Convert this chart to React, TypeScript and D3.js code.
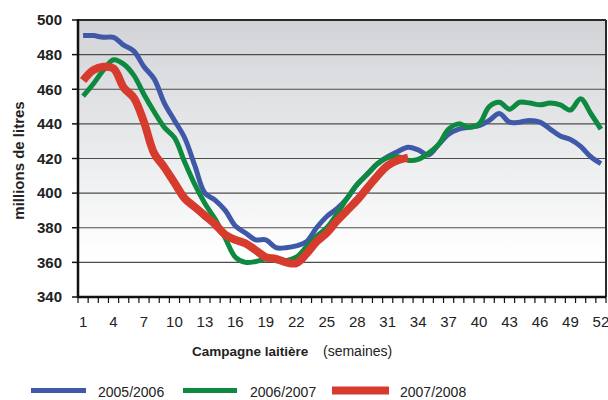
import { useEffect } from 'react';
import * as d3 from 'd3';

// weekly milk collection, millions of litres
const weeks = d3.range(1, 53);
const xTickLabels = [1, 4, 7, 10, 13, 16, 19, 22, 25, 28, 31, 34, 37, 40, 43, 46, 49, 52];
const yTicks = [340, 360, 380, 400, 420, 440, 460, 480, 500];

const season0506 = [
  491, 491, 490, 490, 485.5, 482, 473, 466, 452, 442,
  432, 416, 400, 396, 390, 381, 377, 373, 373, 368.5,
  368.5, 369.5, 372, 380, 386.5, 391, 397, 405, 411, 417,
  421, 424, 426.5, 425, 422, 428, 434, 437, 438, 439,
  442, 446, 441, 441, 442, 441, 437, 433, 431, 427,
  421, 417
];
const season0607 = [
  456, 463, 471, 477, 474.5, 468, 457, 447, 438, 432,
  418, 405, 394, 385, 374, 363, 360, 360.5, 362, 361,
  361, 363, 369, 375, 380, 388, 397, 405, 411, 417,
  420.5, 421, 419, 419.5, 423, 428, 437, 440, 438, 440,
  450, 452.5, 448.5, 452.5, 452, 451, 452, 451, 448, 454.5,
  446, 437
];
const season0708 = [
  465, 471, 473, 472, 461, 455, 441, 423, 415, 406,
  397, 392, 387, 382, 376, 373, 371, 367, 363, 362,
  360, 359.5, 365, 372, 377, 384, 390, 396, 403, 410,
  416, 419, 420.5
];

const series = [
  { label: '2005/2006', values: season0506, color: '#3f58a8', width: 5 },
  { label: '2006/2007', values: season0607, color: '#0d8a40', width: 5 },
  { label: '2007/2008', values: season0708, color: '#d63b2d', width: 8 }
];

const FONT = '"Liberation Sans", Arial, sans-serif';

export default function App() {
  useEffect(() => {
    document.body.style.margin = '0';
  }, []);

  const width = 608;
  const height = 400;
  const plot = { left: 78, right: 606, top: 20, bottom: 297 };

  const x = d3.scaleLinear().domain([0.5, 52.5]).range([plot.left, plot.right]);
  const y = d3.scaleLinear().domain([340, 500]).range([plot.bottom, plot.top]);

  const line = d3.line<number>()
    .x((_, i) => x(weeks[i]))
    .y(d => y(d))
    .curve(d3.curveCatmullRom.alpha(0.5));

  const boundaries = d3.range(0, 53).map(k => k + 0.5);

  const legend = [
    { x1: 31, x2: 86, tx: 98 },
    { x1: 183, x2: 237, tx: 250 },
    { x1: 332, x2: 389, tx: 400 }
  ];

  return (
    <svg width={width} height={height} style={{ display: 'block', fontFamily: FONT }}>
      <defs>
        <linearGradient id="bg" x1="0" y1="0" x2="0" y2="1">
          <stop offset="0%" stopColor="#d2d3d7" />
          <stop offset="55%" stopColor="#eeeff0" />
          <stop offset="85%" stopColor="#ffffff" />
        </linearGradient>
        <clipPath id="plotClip">
          <rect x={plot.left} y={plot.top} width={plot.right - plot.left} height={plot.bottom - plot.top} />
        </clipPath>
      </defs>

      <rect x={plot.left} y={plot.top} width={plot.right - plot.left} height={plot.bottom - plot.top} fill="url(#bg)" />

      {/* grid */}
      {yTicks.slice(1, -1).map(t => (
        <line key={t} x1={plot.left} x2={plot.right} y1={y(t)} y2={y(t)} stroke="#4d4d4d" strokeWidth={1.2} />
      ))}

      {/* series */}
      <g clipPath="url(#plotClip)">
        {series.map(s => (
          <path key={s.label} d={line(s.values) ?? ''} fill="none" stroke={s.color}
            strokeWidth={s.width} strokeLinejoin="round" strokeLinecap="butt" />
        ))}
      </g>

      {/* frame */}
      <line x1={plot.left} x2={plot.right} y1={plot.top} y2={plot.top} stroke="#2a2a2a" strokeWidth={2} />
      <line x1={plot.right} x2={plot.right} y1={plot.top} y2={plot.bottom} stroke="#2a2a2a" strokeWidth={2} />
      <line x1={plot.left} x2={plot.left} y1={plot.top - 1} y2={plot.bottom + 1} stroke="#111" strokeWidth={2.5} />
      <line x1={plot.left} x2={plot.right} y1={plot.bottom} y2={plot.bottom} stroke="#111" strokeWidth={2.5} />

      {/* y axis */}
      {yTicks.map(t => (
        <g key={t}>
          <line x1={plot.left - 6} x2={plot.left} y1={y(t)} y2={y(t)} stroke="#111" strokeWidth={1.5} />
          <text x={62} y={y(t)} dy="0.35em" textAnchor="end" fontSize={15} fontWeight="bold" fill="#222">{t}</text>
        </g>
      ))}
      <text transform={`translate(24,${(plot.top + plot.bottom) / 2 + 2}) rotate(-90)`} textAnchor="middle"
        fontSize={15} fontWeight="bold" fill="#222">millions de litres</text>

      {/* x axis */}
      {boundaries.map(b => (
        <line key={b} x1={x(b)} x2={x(b)} y1={plot.bottom} y2={plot.bottom + 6} stroke="#111" strokeWidth={1.2} />
      ))}
      {xTickLabels.map(w => (
        <text key={w} x={x(w)} y={327} textAnchor="middle" fontSize={15} fill="#222">{w}</text>
      ))}
      <text x={192} y={356} fontSize={13.5} fontWeight="bold" fill="#222">Campagne laitière</text>
      <text x={323} y={356} fontSize={14} fill="#222">(semaines)</text>

      {/* legend */}
      {series.map((s, i) => (
        <g key={s.label}>
          <line x1={legend[i].x1} x2={legend[i].x2} y1={390.5} y2={390.5} stroke={s.color} strokeWidth={s.width} />
          <text x={legend[i].tx} y={397} fontSize={14} fill="#222">{s.label}</text>
        </g>
      ))}
    </svg>
  );
}
